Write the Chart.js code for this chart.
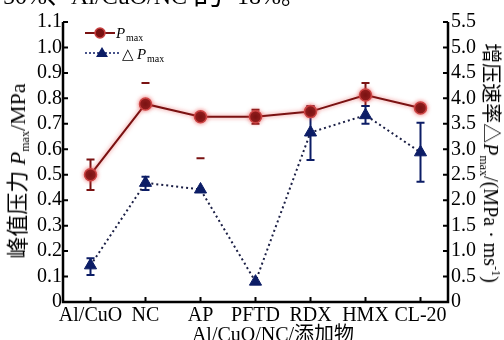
<!DOCTYPE html>
<html>
<head>
<meta charset="utf-8">
<script src="https://cdn.jsdelivr.net/npm/chart.js@4.4.0/dist/chart.umd.min.js"></script>
<style>
  body { margin: 0; background: #fff; }
  #wrap { position: relative; width: 504px; height: 340px; overflow: hidden; font-family: "Liberation Serif", "Noto Sans CJK SC", serif; color: #000; }
  #wrap canvas { position: absolute; left: 0; top: 0; }
  .lbl { position: absolute; white-space: nowrap; font-size: 20px; line-height: 1; }
  .lbl sub { font-size: 12px; vertical-align: -4px; }
  .lbl sup { font-size: 12px; vertical-align: 8px; }
  #topText { left: 3px; top: -21px; font-size: 24px; }
  #yTitle { left: 19px; top: 171px; font-size: 22px; transform: translate(-50%, -50%) rotate(-90deg); }
  #y1Title { left: 490px; top: 163px; transform: translate(-50%, -50%) rotate(90deg); }
  #xTitle { left: 273px; top: 334px; transform: translate(-50%, -50%); }
</style>
</head>
<body>
<div id="wrap">
  <canvas id="chart" width="504" height="340"></canvas>
  <div class="lbl" id="topText">50%、Al/CuO/NC<span style="font-size:30px;margin:0 14px 0 6px">的</span>18%。</div>
  <div class="lbl" id="yTitle">峰值压力 <i>P</i><sub>max</sub>/MPa</div>
  <div class="lbl" id="y1Title">增压速率△<i>P</i><sub>max</sub>/(MPa · ms<sup>-1</sup>)</div>
  <div class="lbl" id="xTitle">Al/CuO/NC/添加物</div>
</div>
<script>
// 数据
const categories = ['Al/CuO', 'NC', 'AP', 'PFTD', 'RDX', 'HMX', 'CL-20'];
const pmax = [0.50, 0.778, 0.728, 0.728, 0.748, 0.813, 0.762];
const pmaxLow = [0.44, 0.86, 0.565, 0.70, 0.73, 0.77, 0.75];
const pmaxHigh = [0.56, 0.86, 0.565, 0.755, 0.77, 0.86, 0.775];
const dPmax = [0.72, 2.34, 2.21, 0.40, 3.33, 3.67, 2.94];
const dPmaxLow = [0.53, 2.20, null, null, 2.79, 3.50, 2.36];
const dPmaxHigh = [0.86, 2.46, null, null, 3.84, 3.85, 3.52];
const leftTicks = [0, 0.1, 0.2, 0.3, 0.4, 0.5, 0.6, 0.7, 0.8, 0.9, 1.0, 1.1];
const rightTicks = [0, 0.5, 1.0, 1.5, 2.0, 2.5, 3.0, 3.5, 4.0, 4.5, 5.0, 5.5];

const RED = '#7a1212';
const NAVY = '#0c1d66';
const FONT = { family: 'Liberation Serif', size: 20 };

const tickFmt = v => (v === 0 ? '0' : v.toFixed(1));

/** 误差线 */
function drawErrors(ctx, xs, ys, low, high, color) {
    ctx.save();
    ctx.strokeStyle = color;
    ctx.lineWidth = 2;
    low.forEach((lo, i) => {
        const hi = high[i];
        if (lo == null || hi == null) return;
        const x = xs.getPixelForValue(i);
        const y1 = ys.getPixelForValue(lo), y2 = ys.getPixelForValue(hi);
        ctx.beginPath();
        ctx.moveTo(x, y1); ctx.lineTo(x, y2);
        ctx.moveTo(x - 4, y1); ctx.lineTo(x + 4, y1);
        ctx.moveTo(x - 4, y2); ctx.lineTo(x + 4, y2);
        ctx.stroke();
    });
    ctx.restore();
}

const decorPlugin = {
    id: 'decor',
    beforeDatasetsDraw(chart) {
        const { ctx, scales } = chart;
        drawErrors(ctx, scales.x, scales.y, pmaxLow, pmaxHigh, RED);
        drawErrors(ctx, scales.x, scales.y1, dPmaxLow, dPmaxHigh, NAVY);
    },
    beforeDatasetDraw(chart, args) {
        if (args.index === 0) {
            chart.ctx.save();
            chart.ctx.shadowColor = 'rgba(230,70,70,0.7)';
            chart.ctx.shadowBlur = 4;
        }
    },
    afterDatasetDraw(chart, args) {
        if (args.index === 0) chart.ctx.restore();
    },
    afterDraw(chart) {
        const { ctx, chartArea: a, scales } = chart;
        ctx.save();
        ctx.strokeStyle = '#000';
        ctx.lineWidth = 2.5;
        ctx.beginPath();
        ctx.moveTo(a.left, a.top); ctx.lineTo(a.left, a.bottom);
        ctx.lineTo(a.right, a.bottom); ctx.lineTo(a.right, a.top);
        ctx.stroke();
        // 内向刻度
        ctx.lineWidth = 2;
        ctx.beginPath();
        leftTicks.forEach(v => {
            const y = scales.y.getPixelForValue(v);
            ctx.moveTo(a.left, y); ctx.lineTo(a.left + 5, y);
        });
        rightTicks.forEach(v => {
            const y = scales.y1.getPixelForValue(v);
            ctx.moveTo(a.right, y); ctx.lineTo(a.right - 5, y);
        });
        categories.forEach((c, i) => {
            const x = scales.x.getPixelForValue(i);
            ctx.moveTo(x, a.bottom); ctx.lineTo(x, a.bottom - 5);
        });
        ctx.stroke();

        // 图例
        const lx = a.left + 22, ly1 = 33, ly2 = 53;
        ctx.strokeStyle = RED; ctx.lineWidth = 2;
        ctx.beginPath(); ctx.moveTo(lx, ly1); ctx.lineTo(lx + 30, ly1); ctx.stroke();
        ctx.fillStyle = RED; ctx.strokeStyle = '#c84040'; ctx.lineWidth = 1.5;
        ctx.beginPath(); ctx.arc(lx + 15, ly1, 5, 0, Math.PI * 2); ctx.fill(); ctx.stroke();
        ctx.strokeStyle = NAVY; ctx.lineWidth = 1.5; ctx.setLineDash([2, 2]);
        ctx.beginPath(); ctx.moveTo(lx, ly2); ctx.lineTo(lx + 34, ly2); ctx.stroke();
        ctx.setLineDash([]);
        ctx.fillStyle = NAVY;
        ctx.beginPath(); ctx.moveTo(lx + 17, ly2 - 6); ctx.lineTo(lx + 23, ly2 + 4); ctx.lineTo(lx + 11, ly2 + 4); ctx.closePath(); ctx.fill();

        ctx.fillStyle = '#000';
        ctx.textBaseline = 'alphabetic';
        ctx.font = 'italic 15px "Liberation Serif"';
        ctx.fillText('P', lx + 31, ly1 + 5);
        ctx.font = '10px "Liberation Serif"';
        ctx.fillText('max', lx + 41, ly1 + 8);
        ctx.font = '15px "Liberation Serif"';
        ctx.fillText('△', lx + 37, ly2 + 6);
        ctx.font = 'italic 15px "Liberation Serif"';
        ctx.fillText('P', lx + 52, ly2 + 6);
        ctx.font = '10px "Liberation Serif"';
        ctx.fillText('max', lx + 62, ly2 + 9);
        ctx.restore();
    }
};

new Chart(document.getElementById('chart'), {
    type: 'line',
    data: {
        labels: categories,
        datasets: [
            {
                label: 'Pmax', data: pmax, yAxisID: 'y',
                borderColor: RED, borderWidth: 2,
                pointStyle: 'circle', pointRadius: 6,
                pointBackgroundColor: RED, pointBorderColor: '#cc4444', pointBorderWidth: 1.5
            },
            {
                label: 'ΔPmax', data: dPmax, yAxisID: 'y1',
                borderColor: '#1b1f45', borderWidth: 2, borderDash: [2, 3],
                pointStyle: 'triangle', pointRadius: 7,
                pointBackgroundColor: NAVY, pointBorderColor: NAVY, pointBorderWidth: 1
            }
        ]
    },
    options: {
        responsive: false,
        animation: false,
        devicePixelRatio: 1,
        layout: { padding: { top: 22, left: 0, right: 0, bottom: 0 } },
        plugins: { legend: { display: false }, tooltip: { enabled: false } },
        scales: {
            x: {
                offset: true,
                grid: { display: false, drawTicks: false },
                border: { display: false },
                ticks: { font: FONT, color: '#000', padding: 2, maxRotation: 0, autoSkip: false },
                afterFit: s => { s.height = 38; }
            },
            y: {
                position: 'left', min: 0, max: 1.1,
                grid: { display: false, drawTicks: false },
                border: { display: false },
                ticks: { stepSize: 0.1, autoSkip: false, font: FONT, color: '#000', padding: 1, callback: tickFmt },
                afterFit: s => { s.width = 63; }
            },
            y1: {
                position: 'right', min: 0, max: 5.5,
                grid: { display: false, drawTicks: false },
                border: { display: false },
                ticks: { stepSize: 0.5, autoSkip: false, font: FONT, color: '#000', padding: 3, callback: tickFmt },
                afterFit: s => { s.width = 56; }
            }
        }
    },
    plugins: [decorPlugin]
});
</script>
</body>
</html>
